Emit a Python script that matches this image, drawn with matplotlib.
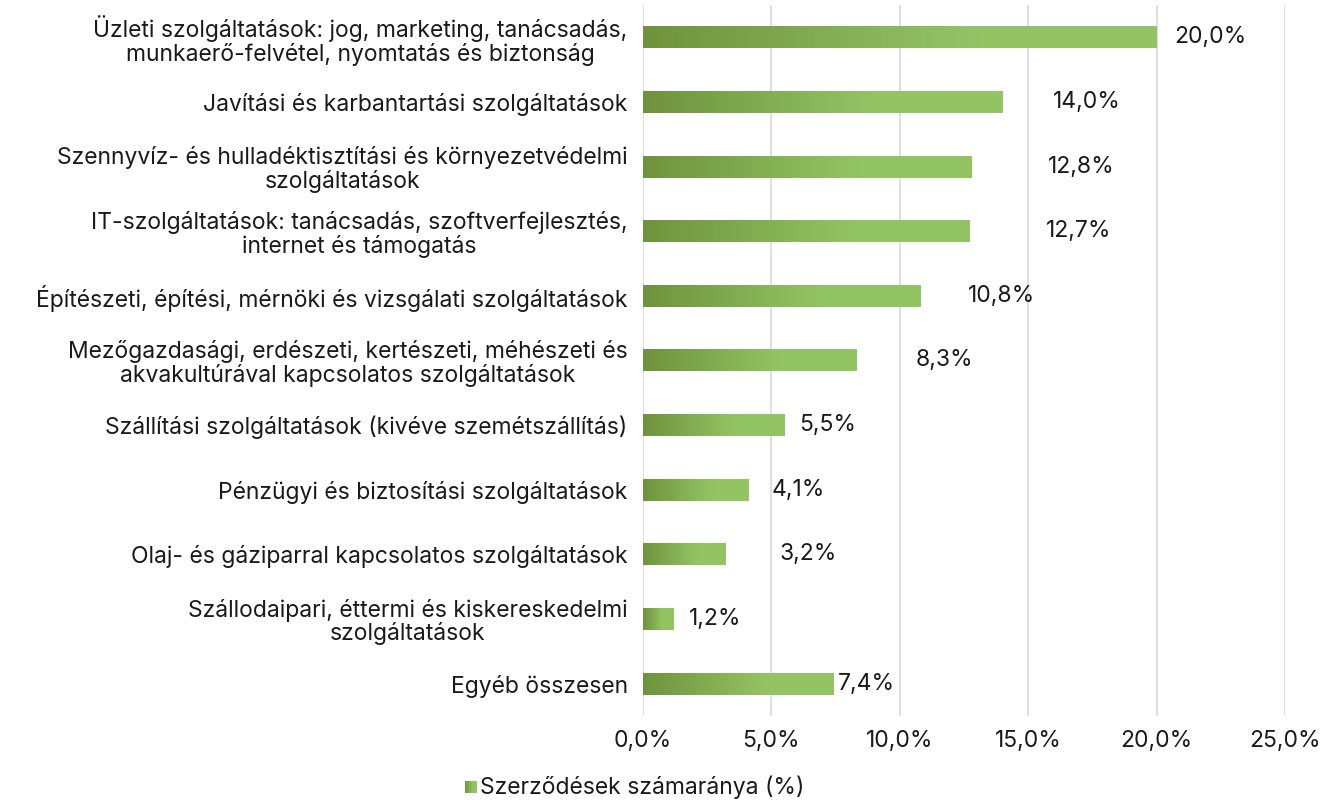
import numpy as np
import matplotlib
matplotlib.use("Agg")
import matplotlib.pyplot as plt
from matplotlib.colors import LinearSegmentedColormap
from matplotlib.ticker import FuncFormatter

categories = [
    "Üzleti szolgáltatások: jog, marketing, tanácsadás,\nmunkaerő-felvétel, nyomtatás és biztonság",
    "Javítási és karbantartási szolgáltatások",
    "Szennyvíz- és hulladéktisztítási és környezetvédelmi\nszolgáltatások",
    "IT-szolgáltatások: tanácsadás, szoftverfejlesztés,\ninternet és támogatás",
    "Építészeti, építési, mérnöki és vizsgálati szolgáltatások",
    "Mezőgazdasági, erdészeti, kertészeti, méhészeti és\nakvakultúrával kapcsolatos szolgáltatások",
    "Szállítási szolgáltatások (kivéve szemétszállítás)",
    "Pénzügyi és biztosítási szolgáltatások",
    "Olaj- és gáziparral kapcsolatos szolgáltatások",
    "Szállodaipari, éttermi és kiskereskedelmi\nszolgáltatások",
    "Egyéb összesen",
]
values = [20.0, 14.0, 12.8, 12.7, 10.8, 8.3, 5.5, 4.1, 3.2, 1.2, 7.4]
# data label left edges (labels were placed by hand in the original)
label_x = [20.7, 15.95, 15.75, 15.7, 12.65, 10.6, 6.1, 5.0, 5.3, 1.8, 7.6]
legend_label = "Szerződések számaránya (%)"

plt.rcParams["font.family"] = ["Inter", "DejaVu Sans"]
fs = 16.5
txt = "#1a1a1a"

dark, light = "#6F933D", "#93C464"
cmap = LinearSegmentedColormap.from_list(
    "g", [(0.0, dark), (0.65, light), (1.0, light)])
grad = np.linspace(0, 1, 256).reshape(1, -1)

fig = plt.figure(figsize=(13.33, 8), dpi=100)
ax = fig.add_axes([643 / 1333, 1 - 716 / 800, (1285 - 643) / 1333, (716 - 5) / 800])

n = len(values)
y = np.arange(n)
bar_h = 0.34
for i, v in enumerate(values):
    ax.imshow(grad, cmap=cmap, aspect="auto", zorder=3,
              extent=[0, v, y[i] + bar_h / 2, y[i] - bar_h / 2])
    ax.text(label_x[i], y[i], f"{v:.1f}%".replace(".", ","),
            va="center", ha="left", fontsize=fs, color=txt)

ax.set_xlim(0, 25)
ax.set_ylim(n - 0.5, -0.5)
ax.set_xticks(np.arange(0, 26, 5))
ax.xaxis.set_major_formatter(FuncFormatter(lambda v, p: f"{v:.1f}%".replace(".", ",")))
ax.set_yticks(y)
ax.set_yticklabels(categories, multialignment="center", linespacing=1.05)
ax.tick_params(axis="both", length=0, labelsize=fs, colors=txt)
ax.tick_params(axis="y", pad=11)
ax.tick_params(axis="x", pad=10)
ax.grid(axis="x", color="#d9d9d9", linewidth=1.2, zorder=0)
ax.set_axisbelow(True)
for s in ax.spines.values():
    s.set_visible(False)

# legend: small gradient swatch + text
lax = fig.add_axes([465 / 1333, 1 - 793 / 800, 12 / 1333, 12 / 800])
lax.imshow(grad, cmap=cmap, aspect="auto")
lax.axis("off")
fig.text(480 / 1333, 1 - 787 / 800, legend_label, fontsize=fs,
         va="center", ha="left", color=txt)

fig.savefig("out.png", dpi=100, facecolor="white")
